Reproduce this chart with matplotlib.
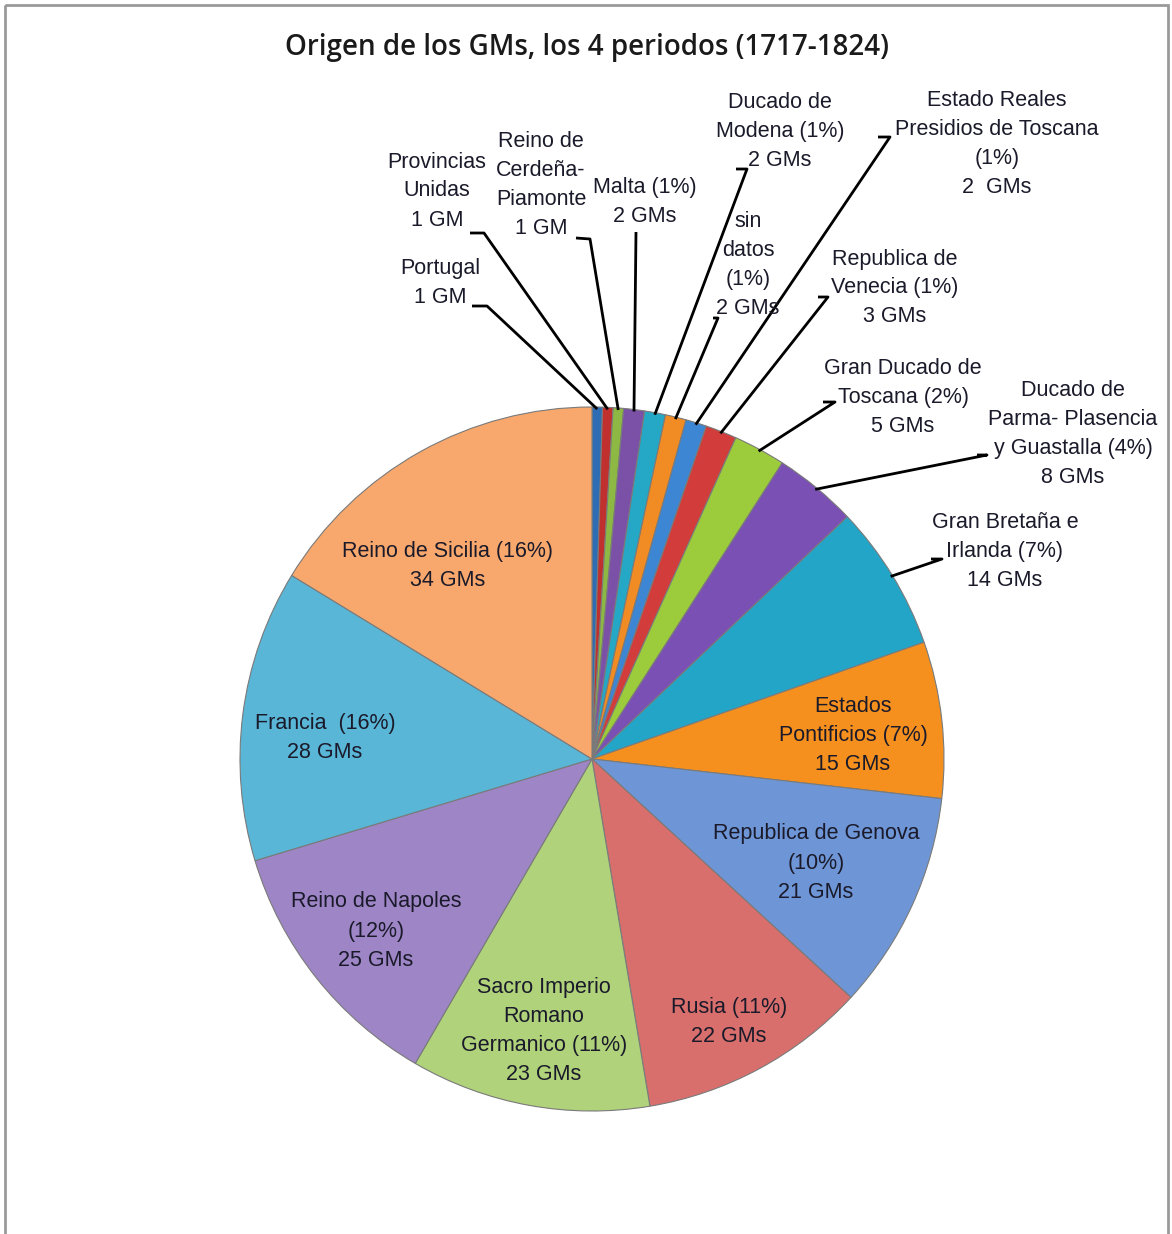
import numpy as np
import matplotlib
matplotlib.use("Agg")
import matplotlib.pyplot as plt
from matplotlib.patches import Rectangle

# data, clockwise from 12 o'clock
paises = ["Portugal", "Provincias Unidas", "Reino de Cerdeña-Piamonte", "Malta",
          "Ducado de Modena", "sin datos", "Estado Reales Presidios de Toscana",
          "Republica de Venecia", "Gran Ducado de Toscana",
          "Ducado de Parma- Plasencia y Guastalla", "Gran Bretaña e Irlanda",
          "Estados Pontificios", "Republica de Genova", "Rusia",
          "Sacro Imperio Romano Germanico", "Reino de Napoles", "Francia",
          "Reino de Sicilia"]
gms = [1, 1, 1, 2, 2, 2, 2, 3, 5, 8, 14, 15, 21, 22, 23, 25, 28, 34]
etiquetas = [
    "Portugal\n1 GM",
    "Provincias\nUnidas\n1 GM",
    "Reino de\nCerdeña-\nPiamonte\n1 GM",
    "Malta (1%)\n2 GMs",
    "Ducado de\nModena (1%)\n2 GMs",
    "sin\ndatos\n(1%)\n2 GMs",
    "Estado Reales\nPresidios de Toscana\n(1%)\n2  GMs",
    "Republica de\nVenecia (1%)\n3 GMs",
    "Gran Ducado de\nToscana (2%)\n5 GMs",
    "Ducado de\nParma- Plasencia\ny Guastalla (4%)\n8 GMs",
    "Gran Bretaña e\nIrlanda (7%)\n14 GMs",
    "Estados\nPontificios (7%)\n15 GMs",
    "Republica de Genova\n(10%)\n21 GMs",
    "Rusia (11%)\n22 GMs",
    "Sacro Imperio\nRomano\nGermanico (11%)\n23 GMs",
    "Reino de Napoles\n(12%)\n25 GMs",
    "Francia  (16%)\n28 GMs",
    "Reino de Sicilia (16%)\n34 GMs",
]
colores = ["#2E6DB4", "#C0302E", "#8CB843", "#7B51A8", "#25A7C6", "#F08C23",
           "#3C86D4", "#D23C3A", "#9CCB3C", "#7A50B5", "#23A5C8", "#F5901F",
           "#6E96D6", "#D86F6C", "#AFD27A", "#9E86C6", "#5AB6D6", "#F8A86C"]

# label placement (pixels): text centre, leader elbow, leader end at text
pos_texto = [(440, 283), (437, 191), (541, 185), (645, 202), (780, 131),
             (748, 265), (997, 144), (895, 288), (903, 397), (1073, 434),
             (1005, 551), (853, 736), (816, 863), (729, 1022), (544, 1031),
             (376, 931), (325, 738), (448, 566)]
guia = {0: [(487, 306), (472, 306)],
        1: [(484, 233), (470, 233)],
        2: [(590, 239), (576, 238)],
        3: [(636, 232)],
        4: [(747, 169), (736, 169)],
        5: [(718, 318), (713, 318)],
        6: [(890, 137), (878, 137)],
        7: [(828, 297), (818, 297)],
        8: [(835, 402), (823, 402)],
        9: [(987, 455), (977, 455)],
        10: [(942, 559), (931, 559)]}

W, H = 1172, 1234
cx, cy, R = 592, 759, 352

fuente = ["Liberation Sans", "DejaVu Sans"]

fig = plt.figure(figsize=(W / 100, H / 100), dpi=100)
ax = fig.add_axes([0, 0, 1, 1])

wedges, _ = ax.pie(gms, colors=colores, startangle=-90, counterclock=True,
                   center=(cx, cy), radius=R, frame=True,
                   wedgeprops=dict(edgecolor="#7a7a7a", linewidth=0.8))
ax.set_xlim(0, W)
ax.set_ylim(H, 0)
ax.set_aspect("equal")
ax.axis("off")

# outer chart frame
ax.add_patch(Rectangle((5, 5), W - 9, H, fill=False, edgecolor="#9a9a9a",
                       linewidth=2, clip_on=False))

ax.text(587, 47, "Origen de los GMs, los 4 periodos (1717-1824)", ha="center",
        va="center", fontsize=20, fontfamily=["Open Sans", "DejaVu Sans"],
        fontweight="semibold", color="#1a1a1a")

for i, w in enumerate(wedges):
    x, y = pos_texto[i]
    ax.text(x, y, etiquetas[i], ha="center", va="center", fontsize=15.5,
            family=fuente, color="#1a1a2a", linespacing=1.5)
    if i in guia:
        mid = np.deg2rad((w.theta1 + w.theta2) / 2)
        px = cx + (R - 2) * np.cos(mid)
        py = cy + (R - 2) * np.sin(mid)
        pts = [(px, py)] + guia[i]
        ax.plot([p[0] for p in pts], [p[1] for p in pts], color="black",
                linewidth=2, solid_capstyle="butt")

fig.savefig("out.png", dpi=100)
